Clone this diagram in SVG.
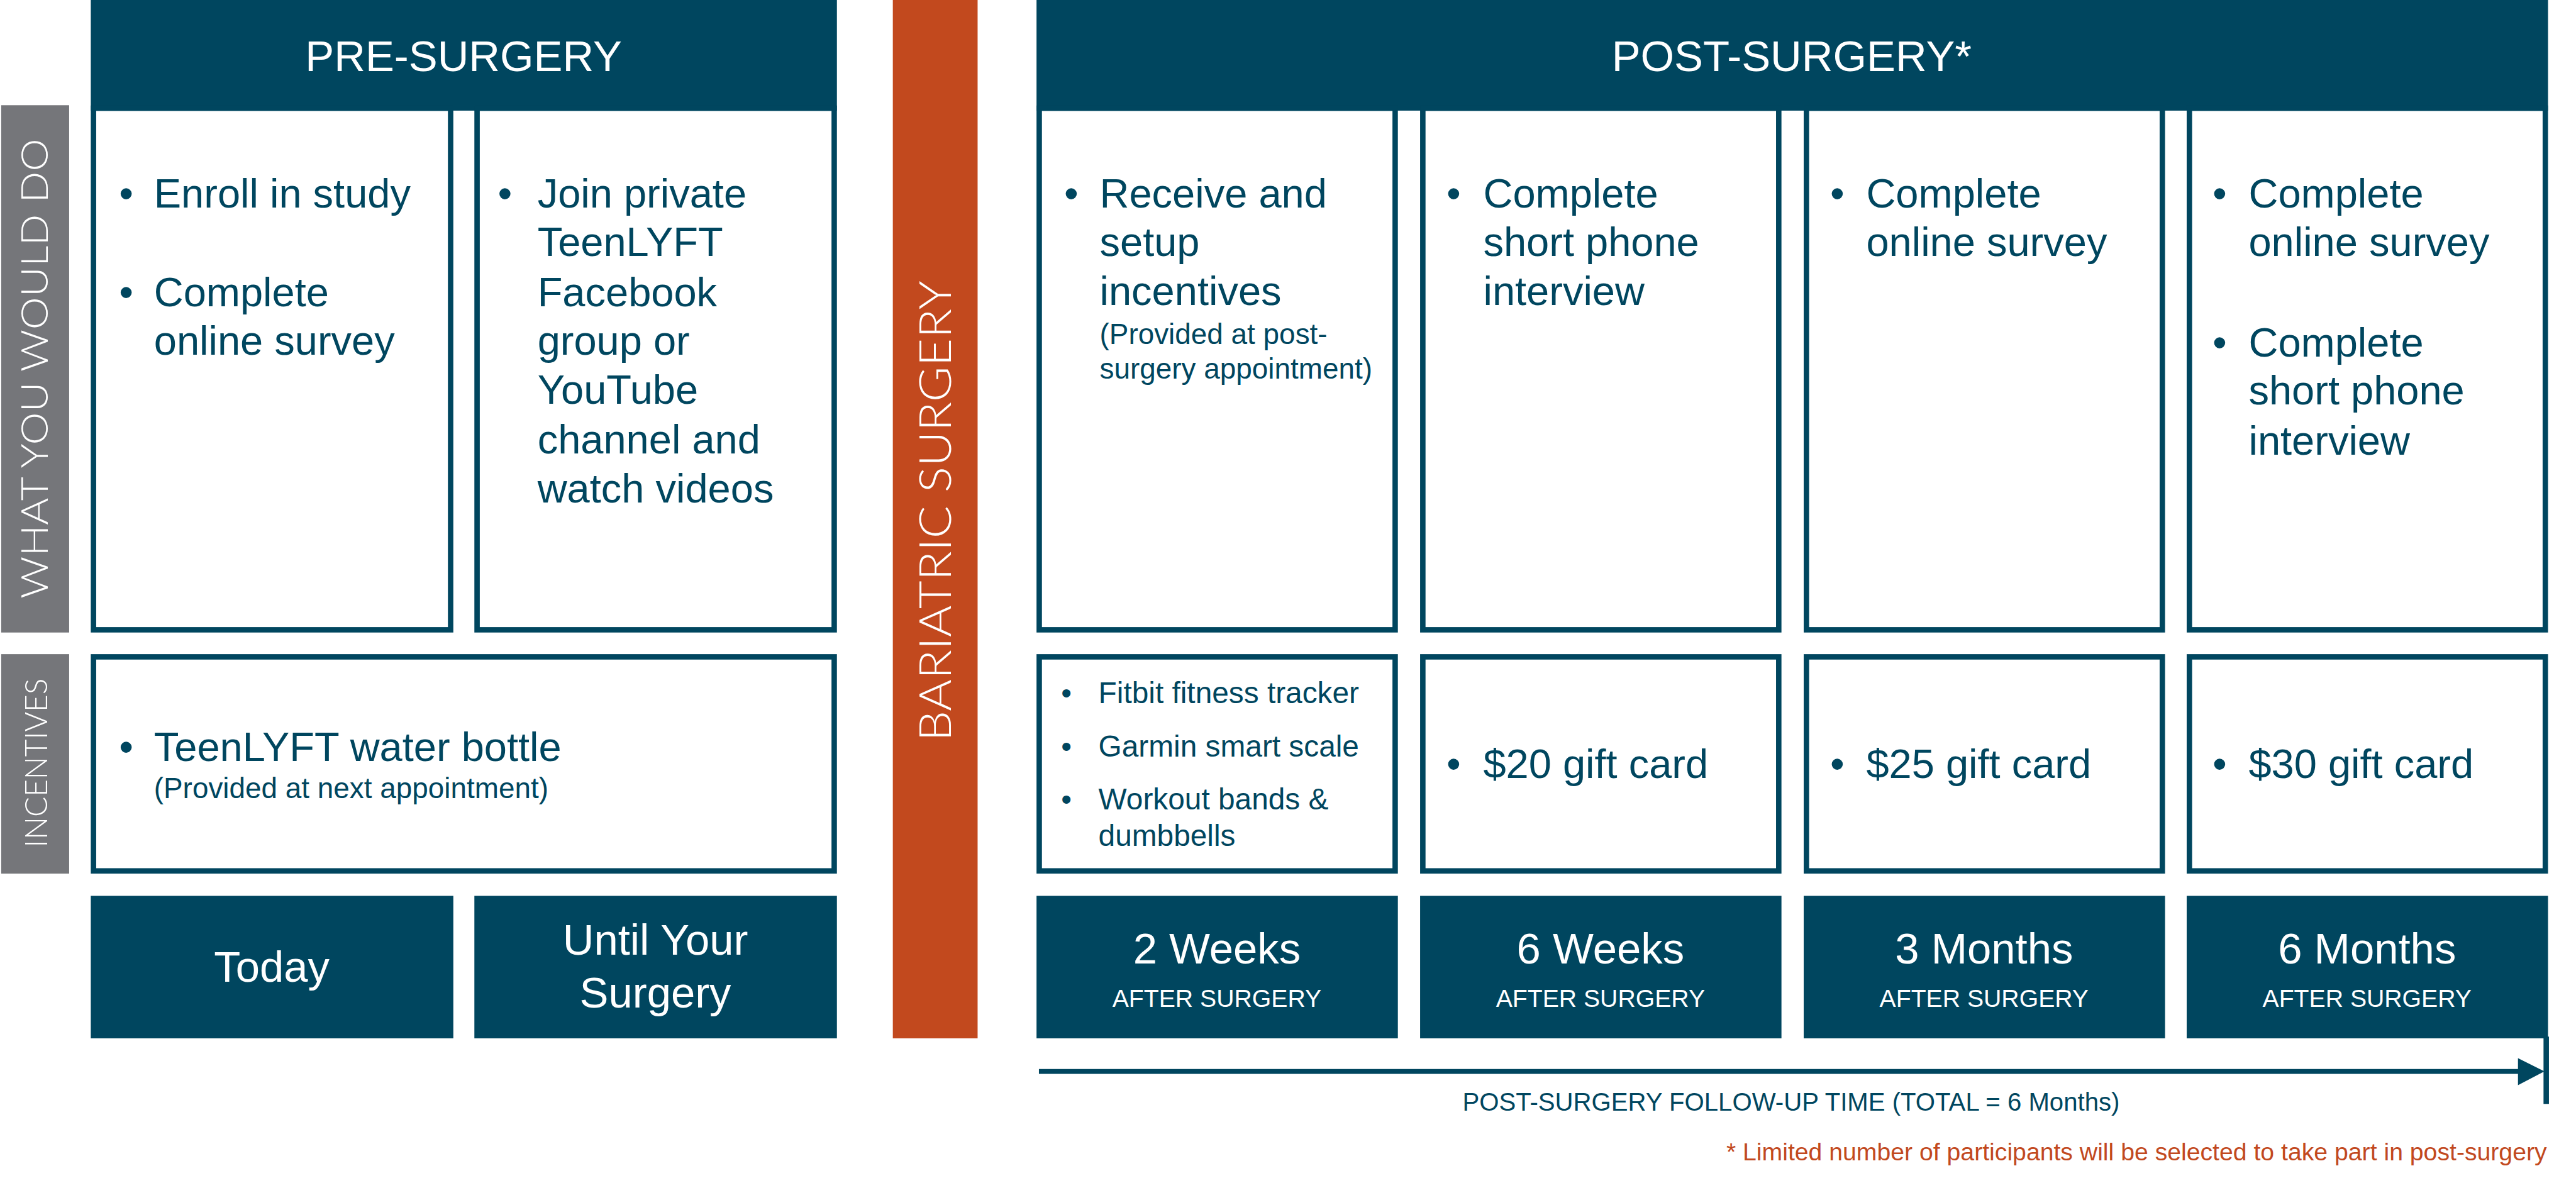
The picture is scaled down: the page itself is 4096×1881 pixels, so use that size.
<svg xmlns="http://www.w3.org/2000/svg" width="4096" height="1881" viewBox="0 0 4096 1881">
<style>
.navy{fill:#00465F}
.box{fill:#fff;stroke:#00465F;stroke-width:9}
.t{font-family:"Liberation Sans",Arial,sans-serif;fill:#00465F}
.b{font-size:68px}
.s{font-size:48px}
.m{font-size:50px}
.w{font-family:"Liberation Sans",Arial,sans-serif;fill:#fff}
.hd{font-size:72px}
.sub{font-size:41px}
.rot{font-family:"Lato","Open Sans","Liberation Sans",sans-serif;font-weight:300;fill:#fff}
</style>
<rect width="4096" height="1881" fill="#fff"/>
<g transform="scale(0.956)">
<g id="label-what">
<rect x="2" y="175" width="113" height="877" fill="#75767A"/>
<text class="rot" font-size="62" text-anchor="middle" transform="translate(80,613) rotate(-90)" textLength="765" lengthAdjust="spacingAndGlyphs">WHAT  YOU  WOULD  DO</text>
</g>
<g id="label-incentives">
<rect x="2" y="1088" width="113" height="365" fill="#75767A"/>
<text class="rot" font-size="52" text-anchor="middle" transform="translate(78,1269) rotate(-90)" textLength="281" lengthAdjust="spacingAndGlyphs">INCENTIVES</text>
</g>
<g id="pre-header">
<rect x="151" y="0" width="1241" height="184" class="navy"/>
<text class="w hd" x="771" y="118" text-anchor="middle">PRE-SURGERY</text>
</g>
<g id="post-header">
<rect x="1724" y="0" width="2514" height="184" class="navy"/>
<text class="w hd" x="2980" y="118" text-anchor="middle">POST-SURGERY*</text>
</g>
<g id="bariatric">
<rect x="1485" y="0" width="141" height="1727" fill="#C2491E"/>
<text class="rot" font-size="74" text-anchor="middle" transform="translate(1582,850) rotate(-90)" textLength="766" lengthAdjust="spacingAndGlyphs">BARIATRIC SURGERY</text>
</g>

<g id="do-today">
<rect class="box" x="155.5" y="180" width="594" height="867.5"/>
<text class="t b"><tspan x="198" y="345">•</tspan><tspan x="256" y="345">Enroll in study</tspan><tspan x="198" y="509">•</tspan><tspan x="256" y="509">Complete</tspan><tspan x="256" y="590">online survey</tspan></text>
</g>
<g id="do-until">
<rect class="box" x="793.5" y="180" width="594" height="867.5"/>
<text class="t b"><tspan x="828" y="345">•</tspan><tspan x="894" y="345">Join private</tspan><tspan x="894" y="426">TeenLYFT</tspan><tspan x="894" y="509">Facebook</tspan><tspan x="894" y="590">group or</tspan><tspan x="894" y="672">YouTube</tspan><tspan x="894" y="754">channel and</tspan><tspan x="894" y="836">watch videos</tspan></text>
</g>
<g id="do-2w">
<rect class="box" x="1728.5" y="180" width="592" height="867.5"/>
<text class="t b"><tspan x="1770" y="345">•</tspan><tspan x="1829" y="345">Receive and</tspan><tspan x="1829" y="426">setup</tspan><tspan x="1829" y="507">incentives</tspan></text>
<text class="t s"><tspan x="1829" y="572">(Provided at post-</tspan><tspan x="1829" y="630">surgery appointment)</tspan></text>
</g>
<g id="do-6w">
<rect class="box" x="2366.5" y="180" width="592" height="867.5"/>
<text class="t b"><tspan x="2406" y="345">•</tspan><tspan x="2467" y="345">Complete</tspan><tspan x="2467" y="426">short phone</tspan><tspan x="2467" y="507">interview</tspan></text>
</g>
<g id="do-3m">
<rect class="box" x="3004.5" y="180" width="592" height="867.5"/>
<text class="t b"><tspan x="3044" y="345">•</tspan><tspan x="3104" y="345">Complete</tspan><tspan x="3104" y="426">online survey</tspan></text>
</g>
<g id="do-6m">
<rect class="box" x="3641.5" y="180" width="592" height="867.5"/>
<text class="t b"><tspan x="3680" y="345">•</tspan><tspan x="3740" y="345">Complete</tspan><tspan x="3740" y="426">online survey</tspan><tspan x="3680" y="593">•</tspan><tspan x="3740" y="593">Complete</tspan><tspan x="3740" y="673">short phone</tspan><tspan x="3740" y="756">interview</tspan></text>
</g>

<g id="inc-pre">
<rect class="box" x="155.5" y="1092.5" width="1232" height="356"/>
<text class="t b"><tspan x="198" y="1266">•</tspan><tspan x="256" y="1266">TeenLYFT water bottle</tspan></text>
<text class="t s" x="256" y="1327">(Provided at next appointment)</text>
</g>
<g id="inc-2w">
<rect class="box" x="1728.5" y="1092.5" width="592" height="356"/>
<text class="t m"><tspan x="1765" y="1169">•</tspan><tspan x="1827" y="1169">Fitbit fitness tracker</tspan><tspan x="1765" y="1258">•</tspan><tspan x="1827" y="1258">Garmin smart scale</tspan><tspan x="1765" y="1346">•</tspan><tspan x="1827" y="1346">Workout bands &amp;</tspan><tspan x="1827" y="1407">dumbbells</tspan></text>
</g>
<g id="inc-6w">
<rect class="box" x="2366.5" y="1092.5" width="592" height="356"/>
<text class="t b"><tspan x="2406" y="1294">•</tspan><tspan x="2467" y="1294">$20 gift card</tspan></text>
</g>
<g id="inc-3m">
<rect class="box" x="3004.5" y="1092.5" width="592" height="356"/>
<text class="t b"><tspan x="3044" y="1294">•</tspan><tspan x="3104" y="1294">$25 gift card</tspan></text>
</g>
<g id="inc-6m">
<rect class="box" x="3641.5" y="1092.5" width="592" height="356"/>
<text class="t b"><tspan x="3680" y="1294">•</tspan><tspan x="3740" y="1294">$30 gift card</tspan></text>
</g>

<g id="time-today">
<rect class="navy" x="151" y="1490" width="603" height="237"/>
<text class="w hd" x="452" y="1633" text-anchor="middle">Today</text>
</g>
<g id="time-until">
<rect class="navy" x="789" y="1490" width="603" height="237"/>
<text class="w hd" text-anchor="middle"><tspan x="1090" y="1588">Until Your</tspan><tspan x="1090" y="1676">Surgery</tspan></text>
</g>
<g id="time-2w">
<rect class="navy" x="1724" y="1490" width="601" height="237"/>
<text class="w hd" x="2024" y="1603" text-anchor="middle">2 Weeks</text>
<text class="w sub" x="2024" y="1675" text-anchor="middle">AFTER SURGERY</text>
</g>
<g id="time-6w">
<rect class="navy" x="2362" y="1490" width="601" height="237"/>
<text class="w hd" x="2662" y="1603" text-anchor="middle">6 Weeks</text>
<text class="w sub" x="2662" y="1675" text-anchor="middle">AFTER SURGERY</text>
</g>
<g id="time-3m">
<rect class="navy" x="3000" y="1490" width="601" height="237"/>
<text class="w hd" x="3300" y="1603" text-anchor="middle">3 Months</text>
<text class="w sub" x="3300" y="1675" text-anchor="middle">AFTER SURGERY</text>
</g>
<g id="time-6m">
<rect class="navy" x="3637" y="1490" width="601" height="237"/>
<text class="w hd" x="3937" y="1603" text-anchor="middle">6 Months</text>
<text class="w sub" x="3937" y="1675" text-anchor="middle">AFTER SURGERY</text>
</g>

<g id="connectors">
<line x1="1728" y1="1782" x2="4192" y2="1782" stroke="#00465F" stroke-width="8"/>
<polygon points="4188,1760 4232,1782 4188,1805" fill="#00465F"/>
<line x1="4235" y1="1724" x2="4235" y2="1836" stroke="#00465F" stroke-width="9"/>
</g>
<text class="t" font-size="42" x="2979" y="1847" text-anchor="middle">POST-SURGERY FOLLOW-UP TIME (TOTAL = 6 Months)</text>
<text font-family="Liberation Sans, Arial, sans-serif" font-size="41" fill="#C2491E" x="4236" y="1930" text-anchor="end">* Limited number of participants will be selected to take part in post-surgery</text>
</g>
</svg>
